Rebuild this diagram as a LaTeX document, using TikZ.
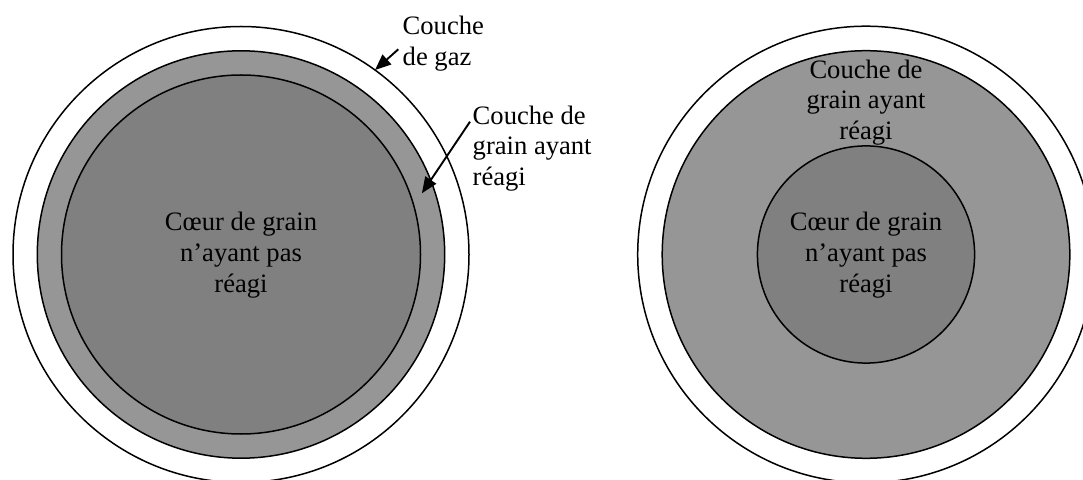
\documentclass[tikz,border=0pt]{standalone}
\usepackage{fontspec}
\setmainfont{Liberation Serif}
\usetikzlibrary{arrows.meta,calc}
\definecolor{ringgray}{RGB}{150,150,150}
\definecolor{coregray}{RGB}{128,128,128}
\begin{document}
\begin{tikzpicture}[x=1pt,y=1pt,
  layer/.style={circle,draw=black,line width=1.5pt,inner sep=0pt,outer sep=0pt},
  lbl/.style={inner sep=0pt,font=\fontsize{26.6}{30.7}\selectfont},
  pointer/.style={line width=1.9pt,-{Triangle[length=16pt,width=13pt]}}]
\clip (0,0) rectangle (1083,479);
\fill[white] (0,0) rectangle (1083,479);

% grain early in the reaction: thin reacted shell
\coordinate (Lc) at (241,224.5);
\node[layer,fill=white,minimum size=456pt] (Lout) at (Lc) {};
\node[layer,fill=ringgray,minimum size=407.4pt] (Lring) at (Lc) {};
\node[layer,fill=coregray,minimum size=359pt] (Lcore) at (Lc) {};

% grain later in the reaction: thick reacted shell, small core
\coordinate (Rc) at (866,224.5);
\node[layer,fill=white,minimum size=456.6pt] (Rout) at (Rc) {};
\node[layer,fill=ringgray,minimum size=407.6pt] (Rring) at (Rc) {};
\node[layer,fill=coregray,minimum size=217.2pt] (Rcore) at (Rc) {};

% labels
\node[lbl,align=center] (Lcoretxt) at (241,224) {Cœur de grain\\n’ayant pas\\réagi};
\node[lbl,align=center] (Rcoretxt) at (866,224) {Cœur de grain\\n’ayant pas\\réagi};
\node[lbl,align=center] (Rringtxt) at (866,376.5) {Couche de\\grain ayant\\réagi};
\node[lbl,align=left,anchor=west] (gaztxt) at (402.5,435.5) {Couche\\de gaz};
\node[lbl,align=left,anchor=west] (ringtxt) at (472.5,330.5) {Couche de\\grain ayant\\réagi};

% pointers from the labels to the layers
\coordinate (gazTail) at (398.3,429.7);
\coordinate (ringTail) at (470,357.3);
\coordinate (ringTip) at ($(Lc)+(18.7:191)$);
\draw[pointer] (gazTail) -- (Lout.54);
\draw[pointer] (ringTail) -- (ringTip);
\end{tikzpicture}
\end{document}
